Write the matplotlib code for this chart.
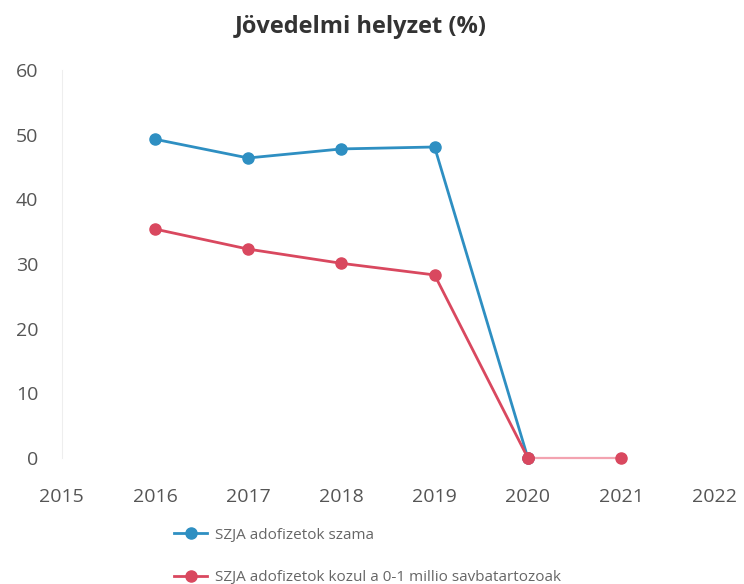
import matplotlib.pyplot as plt

years = [2016, 2017, 2018, 2019, 2020, 2021]
szja_count = [49.3, 46.4, 47.8, 48.1, 0]
szja_low_band = [35.4, 32.3, 30.1, 28.3, 0, 0]
label_count = "SZJA adofizetok szama"
label_low = "SZJA adofizetok kozul a 0-1 millio savbatartozoak"

plt.rcParams['font.family'] = ['Open Sans', 'DejaVu Sans']

fig = plt.figure(figsize=(7.44, 5.84), dpi=100)
ax = fig.add_axes([0.083, 0.216, 0.877, 0.664])

blue = '#2e8fc2'
red = '#d9485f'

ax.plot(years[:5], szja_count, color=blue, lw=2, marker='o', ms=8, label=label_count,
        zorder=3, clip_on=False)
ax.plot(years[:5], szja_low_band[:5], color=red, lw=2, marker='o', ms=8, label=label_low,
        zorder=4, clip_on=False)
ax.plot(years[4:], szja_low_band[4:], color='#f3a3b0', lw=1.6, zorder=2, clip_on=False)
ax.plot(years[4:], szja_low_band[4:], color=red, lw=0, marker='o', ms=8, zorder=5, clip_on=False)

ax.set_xlim(2015, 2022)
ax.set_ylim(0, 60)
ax.set_xticks(range(2015, 2023))
ax.set_yticks(range(0, 61, 10))
for s in ['top', 'right', 'bottom']:
    ax.spines[s].set_visible(False)
ax.spines['left'].set_color('#eeeeee')
ax.tick_params(length=0, labelsize=14, colors='#555555')
ax.tick_params(axis='x', pad=22)
ax.tick_params(axis='y', pad=17)

fig.suptitle('Jövedelmi helyzet (%)', x=0.485, y=0.975, fontsize=17, fontweight='bold', color='#333333')

fig.legend(loc='upper left', bbox_to_anchor=(0.215, 0.12), frameon=False,
           fontsize=11, labelcolor='#666666', handlelength=2.2, handletextpad=0.5,
           labelspacing=1.8)

fig.savefig('out.png', dpi=100)
